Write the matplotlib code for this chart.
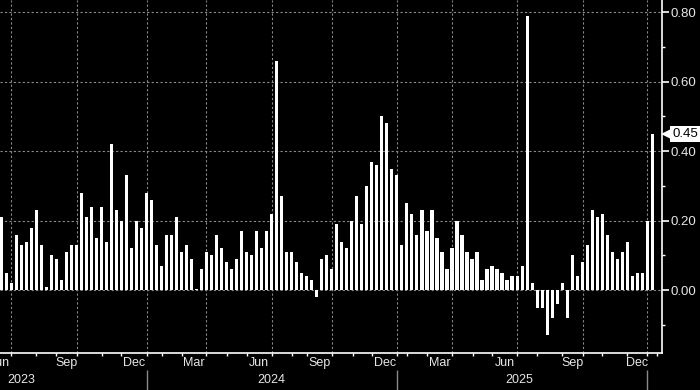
import pandas as pd
import matplotlib
matplotlib.use('Agg')
from matplotlib import pyplot as plt
from matplotlib import transforms

# weekly bar values (one per bar, left to right)
values = [0.21, 0.05, 0.02, 0.16, 0.13, 0.14, 0.18, 0.23, 0.13, 0.01,
          0.10, 0.09, 0.03, 0.11, 0.13, 0.13, 0.28, 0.21, 0.24, 0.15,
          0.24, 0.14, 0.42, 0.23, 0.20, 0.33, 0.12, 0.20, 0.18, 0.28,
          0.26, 0.13, 0.07, 0.16, 0.16, 0.21, 0.11, 0.13, 0.09, 0.003,
          0.06, 0.11, 0.10, 0.16, 0.12, 0.08, 0.06, 0.09, 0.17, 0.11,
          0.10, 0.17, 0.12, 0.17, 0.22, 0.66, 0.27, 0.11, 0.11, 0.08,
          0.05, 0.04, 0.03, -0.02, 0.09, 0.10, 0.06, 0.19, 0.14, 0.12,
          0.20, 0.27, 0.19, 0.30, 0.37, 0.36, 0.50, 0.48, 0.35, 0.33,
          0.13, 0.25, 0.22, 0.16, 0.23, 0.17, 0.23, 0.15, 0.11, 0.06,
          0.12, 0.20, 0.16, 0.11, 0.09, 0.11, 0.03, 0.06, 0.07, 0.06,
          0.05, 0.03, 0.04, 0.04, 0.07, 0.79, 0.02, -0.05, -0.05, -0.13,
          -0.08, -0.04, 0.02, -0.08, 0.10, 0.04, 0.08, 0.13, 0.23, 0.21,
          0.22, 0.16, 0.11, 0.09, 0.11, 0.14, 0.04, 0.05, 0.05, 0.20,
          0.45]

# where each month starts, in bar positions (Jun 2023 .. Feb 2026)
month_starts = [-2.4, 1.9, 6.9, 10.9, 15.1, 20.0, 23.9, 29.0, 32.0, 36.0,
                40.9, 45.0, 49.0, 54.0, 58.0, 61.0, 66.0, 70.2, 74.1, 79.1,
                81.1, 85.1, 90.1, 94.1, 98.0, 103.0, 107.0, 112.0, 116.1, 120.0,
                125.0, 129.0, 131.0]
months = pd.period_range('2023-06', '2026-02', freq='M')

year_labels = ['2023', '2024', '2025']
year_pos = [3.9, 54.0, 103.5]

fg = '#e6e6e6'
grid_c = '#8a8a8a'
font = 'Liberation Sans'

fig = plt.figure(figsize=(7, 3.9), dpi=100, facecolor='black')
ax = fig.add_axes([0, 0.0956, 0.9453, 0.9044], facecolor='black')

x = list(range(len(values)))
ax.bar(x, values, width=0.62, color='white', linewidth=0, zorder=3)

# x ticks: quarters major (with grid), other months minor
major_x = [p for p, m in zip(month_starts, months) if m.month in (1, 4, 7, 10)]
minor_x = [p for p, m in zip(month_starts, months) if m.month not in (1, 4, 7, 10)]
ax.set_xticks(major_x)
ax.set_xticks(minor_x, minor=True)
ax.set_xticklabels([])
ax.tick_params(axis='x', which='both', direction='out', length=2.5, width=1,
               color='white', bottom=True)

ax.yaxis.tick_right()
yticks = [0.0, 0.2, 0.4, 0.6, 0.8]
ax.set_yticks(yticks)
ax.set_yticks([-0.1, 0.1, 0.3, 0.5, 0.7], minor=True)
ax.set_yticklabels(['%.2f' % v for v in yticks], family=font)
ax.tick_params(axis='y', which='major', direction='out', length=5, width=1.2,
               color='white', labelcolor=fg, labelsize=9.5, pad=1.5)
ax.tick_params(axis='y', which='minor', direction='out', length=2, width=1,
               color='white')

# limits after the ticks (set_xticks widens the view otherwise)
ax.set_xlim(-0.3, 131.9)
ax.set_ylim(-0.18, 0.835)

for s in ['left', 'top']:
    ax.spines[s].set_visible(False)
for s in ['right', 'bottom']:
    ax.spines[s].set_color('white')
    ax.spines[s].set_linewidth(1.2)

ax.grid(True, which='major', color=grid_c, linestyle=(0, (2, 2)), linewidth=0.8, zorder=1)
ax.set_axisbelow(True)

# month labels centred on the month
xt = ax.get_xaxis_transform()
for i, m in enumerate(months[:-1]):
    if m.month in (3, 6, 9, 12):
        mid = (month_starts[i] + month_starts[i + 1]) / 2
        ax.text(mid, -0.03, m.strftime('%b'), transform=xt, ha='center', va='center',
                color=fg, fontsize=9, family=font, clip_on=False)

for lab, p in zip(year_labels, year_pos):
    ax.text(p, -0.077, lab, transform=xt, ha='center', va='center',
            color=fg, fontsize=9, family=font, clip_on=False)

year_breaks = [p for p, m in zip(month_starts, months) if m.month == 1]
ax.vlines(year_breaks, -0.05, -0.11, transform=xt, color=grid_c, linewidth=1, clip_on=False)

# last value tag
last = values[-1]
bt = transforms.blended_transform_factory(ax.transAxes, ax.transData)
ax.plot([1.0], [last], marker='<', markersize=8, color='white', markeredgewidth=0,
        transform=transforms.offset_copy(bt, fig=fig, x=4, y=0, units='points'),
        clip_on=False, zorder=5)
ax.text(1.0, last, '%.2f' % last, color='black', fontsize=9.5, family=font,
        ha='left', va='center',
        transform=transforms.offset_copy(bt, fig=fig, x=7.5, y=0, units='points'),
        bbox=dict(boxstyle='square,pad=0.15', fc='white', ec='none'), clip_on=False, zorder=5)

ax.set_xlim(-0.3, 131.9)
ax.set_ylim(-0.18, 0.835)

fig.savefig('out.png', dpi=100, facecolor='black')
